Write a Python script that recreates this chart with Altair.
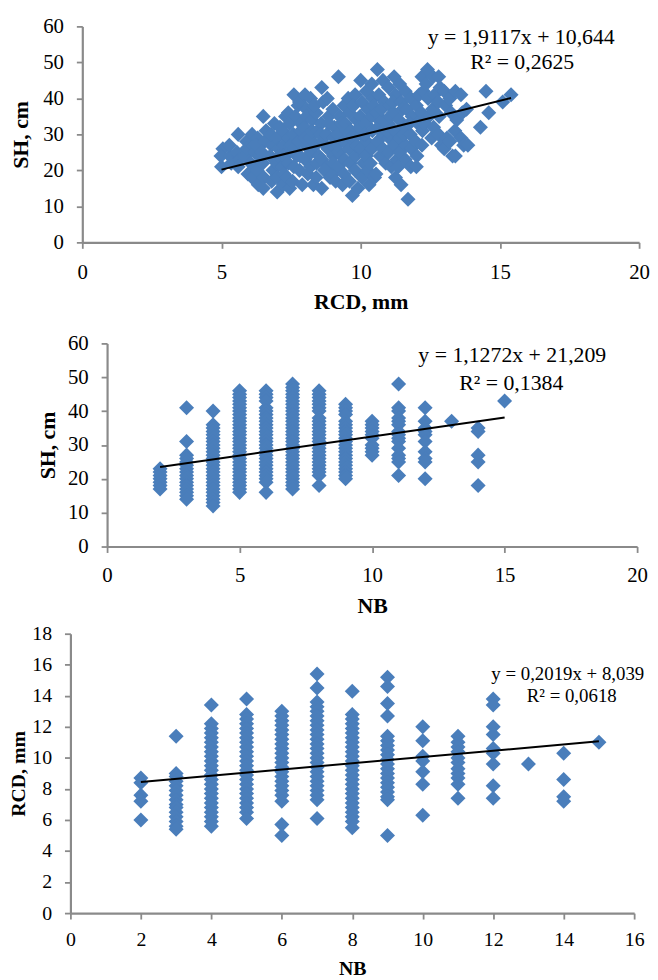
import altair as alt
import pandas as pd

FONT = "Liberation Serif"
BLUE = "#4a7ebb"
AXIS_GREY = "#8a8a8a"

# ---------- panel 1: RCD (mm) vs SH (cm) ----------
p1_rcd = [
    5.00, 5.05, 4.98,
    5.30, 5.35, 5.28,
    5.60, 5.55, 5.65, 5.60,
    5.90, 5.85, 5.95, 5.90,
    6.10, 6.15, 6.05, 6.10, 6.20,
    6.30, 6.35, 6.28, 6.32, 6.25,
    6.50, 6.55, 6.48, 6.52, 6.50, 6.45, 6.60,
    6.80, 6.75, 6.85, 6.80, 6.78, 6.90,
    7.00, 7.05, 6.98, 7.02, 7.00, 7.10, 7.05,
    7.20, 7.25, 7.18, 7.22, 7.30, 7.20, 7.25,
    7.40, 7.45, 7.38, 7.42, 7.40, 7.35, 7.45, 7.50,
    7.60, 7.65, 7.58, 7.62, 7.60, 7.55, 7.70, 7.75,
    7.80, 7.85, 7.78, 7.82, 7.80, 7.90, 7.85,
    8.00, 8.05, 7.98, 8.02, 8.00, 8.10, 8.05, 8.00,
    8.20, 8.25, 8.18, 8.22, 8.20, 8.30, 8.25,
    8.40, 8.45, 8.38, 8.42, 8.40, 8.35, 8.50,
    8.60, 8.65, 8.58, 8.62, 8.60, 8.60, 8.70, 8.55,
    8.80, 8.85, 8.78, 8.82, 8.80, 8.90, 8.85,
    9.00, 9.05, 8.98, 9.02, 9.00, 9.10, 9.05, 9.00,
    9.20, 9.25, 9.18, 9.22, 9.20, 9.30, 9.15,
    9.40, 9.45, 9.38, 9.42, 9.40, 9.35, 9.50,
    9.60, 9.65, 9.58, 9.62, 9.60, 9.70, 9.55, 9.65,
    9.80, 9.85, 9.78, 9.82, 9.80, 9.90, 9.75, 9.85,
    10.00, 10.05, 9.98, 10.02, 10.00, 10.10, 10.05, 9.95,
    10.20, 10.25, 10.18, 10.22, 10.20, 10.30, 10.25, 10.15,
    10.40, 10.45, 10.38, 10.42, 10.40, 10.35, 10.50, 10.45,
    10.60, 10.65, 10.58, 10.62, 10.60, 10.70, 10.55, 10.65,
    10.80, 10.85, 10.78, 10.82, 10.80, 10.90, 10.75,
    11.00, 11.05, 10.98, 11.02, 11.00, 11.10, 11.05, 10.95,
    11.20, 11.25, 11.18, 11.22, 11.20, 11.30, 11.25, 11.15,
    11.40, 11.45, 11.38, 11.42, 11.40, 11.35, 11.45, 11.50,
    11.60, 11.65, 11.58, 11.62, 11.60, 11.70, 11.55,
    11.80, 11.85, 11.78, 11.82, 11.80, 11.75,
    12.00, 12.05, 11.98, 12.02, 12.00, 12.10,
    12.20, 12.25, 12.18, 12.22, 12.20,
    12.40, 12.35, 12.42, 12.45, 12.30,
    12.60, 12.65, 12.58, 12.62, 12.55,
    12.80, 12.85, 12.78, 12.82, 12.80, 12.90,
    13.00, 13.05, 13.00, 13.10,
    13.20, 13.25, 13.30, 13.20,
    13.40, 13.45, 13.38, 13.40,
    13.60, 13.65, 13.60, 13.70,
    13.80, 13.85,
    14.30,
    14.50, 14.60,
    15.10,
    15.40,
]
p1_sh = [
    21, 26, 24,
    24, 22, 27,
    30, 25, 23, 21,
    28, 24, 19, 26,
    30, 27, 22, 18, 25,
    29, 24, 20, 16, 27,
    35, 28, 22, 18, 15, 25, 31,
    27, 24, 20, 17, 30, 33,
    29, 26, 22, 18, 14, 32, 24,
    31, 27, 21, 16, 35, 24, 19,
    36, 33, 29, 25, 22, 18, 15, 27,
    41, 35, 30, 26, 21, 17, 24, 38,
    39, 33, 28, 24, 20, 16, 31,
    41, 37, 32, 27, 23, 19, 35, 29,
    40, 34, 29, 25, 21, 16, 31,
    36, 31, 27, 22, 18, 38, 24,
    43, 39, 33, 28, 23, 15, 20, 30,
    40, 35, 30, 26, 21, 18, 33,
    37, 32, 27, 24, 19, 17, 29, 22,
    46, 35, 30, 25, 21, 33, 27,
    38, 33, 28, 23, 19, 16, 31,
    36, 31, 26, 22, 17, 13, 40, 29,
    41, 34, 29, 24, 20, 15, 38, 27,
    45, 39, 35, 30, 26, 22, 18, 32,
    42, 37, 33, 28, 24, 16, 20, 30,
    44, 40, 35, 31, 26, 22, 18, 38,
    48, 41, 36, 32, 28, 24, 19, 34,
    45, 39, 34, 30, 26, 22, 37,
    43, 38, 33, 29, 25, 21, 35, 31,
    46, 41, 36, 31, 27, 23, 18, 39,
    44, 39, 34, 29, 25, 21, 16, 37,
    42, 37, 32, 27, 23, 12, 30,
    40, 35, 30, 26, 21, 33,
    38, 33, 28, 24, 21, 41,
    46, 42, 36, 31, 27,
    48, 44, 40, 35, 33,
    46, 41, 37, 32, 29,
    46, 43, 39, 35, 30, 27,
    42, 38, 26, 29,
    40, 36, 24, 28,
    42, 34, 31, 24,
    41, 36, 29, 27,
    37, 27,
    32,
    42, 36,
    39,
    41,
]

# ---------- panel 2: NB vs SH (cm) ----------
p2_sh = {
    2: [23, 22, 21, 20, 19, 18, 17],
    3: [41, 31, 27, 26, 25, 24, 23, 22, 21, 20, 19, 18, 17, 16, 15, 14],
    4: [40, 36, 35, 34, 33, 32, 31, 30, 29, 28, 27, 26, 25, 24, 23, 22, 21, 20,
        19, 18, 17, 16, 15, 14, 13, 12],
    5: [46, 45, 44, 43, 42, 41, 40, 39, 38, 37, 36, 35, 34, 33, 32, 31, 30, 29,
        28, 27, 26, 25, 24, 23, 22, 21, 20, 19, 18, 17, 16],
    6: [46, 45, 44, 43, 41, 40, 39, 38, 37, 36, 35, 34, 33, 32, 31, 30, 29, 28,
        27, 26, 25, 24, 23, 22, 21, 20, 19, 16],
    7: [48, 47, 46, 45, 44, 43, 42, 41, 40, 39, 38, 37, 36, 35, 34, 33, 32, 31,
        30, 29, 28, 27, 26, 25, 24, 23, 22, 21, 20, 19, 18, 17],
    8: [46, 45, 44, 43, 42, 41, 40, 38, 37, 36, 35, 34, 33, 32, 31, 30, 29, 28,
        27, 26, 25, 24, 23, 22, 21, 18],
    9: [42, 41, 40, 39, 37, 36, 35, 34, 33, 32, 31, 30, 29, 28, 27, 26, 25, 24,
        23, 22, 21, 20],
    10: [37, 36, 35, 34, 33, 32, 30, 29, 28, 27],
    11: [48, 41, 40, 38, 37, 36, 34, 33, 32, 31, 29, 27, 26, 25, 21],
    12: [41, 37, 35, 34, 33, 31, 28, 26, 25, 20],
    13: [37],
    14: [35, 34, 27, 25, 18],
    15: [43],
}

# ---------- panel 3: NB vs RCD (mm) ----------
p3_rcd = {
    2: [8.7, 8.4, 7.6, 7.2, 6.0],
    3: [11.4, 9.0, 8.8, 8.5, 8.2, 7.9, 7.6, 7.3, 7.0, 6.8, 6.5, 6.2, 5.9, 5.6, 5.4],
    4: [13.4, 12.2, 11.9, 11.6, 11.3, 11.0, 10.7, 10.4, 10.1, 9.8, 9.5, 9.2, 8.9,
        8.6, 8.3, 8.0, 7.7, 7.4, 7.1, 6.8, 6.5, 6.2, 5.9, 5.6],
    5: [13.8, 12.8, 12.5, 12.2, 11.9, 11.6, 11.3, 11.0, 10.7, 10.4, 10.1, 9.8, 9.5,
        9.2, 8.9, 8.6, 8.3, 8.0, 7.7, 7.4, 7.1, 6.8, 6.5, 6.1],
    6: [13.0, 12.7, 12.4, 12.1, 11.8, 11.5, 11.2, 10.9, 10.6, 10.3, 10.0, 9.7, 9.4,
        9.1, 8.8, 8.5, 8.2, 7.9, 7.6, 7.2, 5.7, 5.0],
    7: [15.4, 14.5, 13.6, 13.3, 13.0, 12.7, 12.4, 12.1, 11.8, 11.5, 11.2, 10.9,
        10.6, 10.3, 10.0, 9.7, 9.4, 9.1, 8.8, 8.5, 8.2, 7.9, 7.6, 7.3, 6.1],
    8: [14.3, 12.8, 12.5, 12.2, 11.9, 11.6, 11.3, 11.0, 10.7, 10.4, 10.1, 9.8, 9.5,
        9.2, 8.9, 8.6, 8.3, 8.0, 7.7, 7.4, 7.1, 6.8, 6.5, 6.2, 5.9, 5.5],
    9: [15.2, 14.6, 13.5, 12.7, 11.4, 11.1, 10.8, 10.5, 10.2, 9.9, 9.6, 9.3, 9.0,
        8.7, 8.4, 8.1, 7.8, 7.5, 7.3, 5.0],
    10: [12.0, 11.1, 10.1, 9.8, 9.1, 8.3, 6.3],
    11: [11.4, 11.0, 10.7, 10.4, 10.0, 9.7, 9.3, 9.0, 8.7, 8.3, 7.4],
    12: [13.8, 13.4, 12.0, 11.5, 10.6, 10.3, 9.6, 8.2, 7.4],
    13: [9.6],
    14: [10.3, 8.6, 7.5, 7.2],
    15: [11.0],
}

# ---------- trend lines and their labels ----------
fit_slope = [1.9117, 1.1272, 0.2019]
fit_intercept = [10.644, 21.209, 8.039]
fit_xrange = [(5.0, 15.4), (2, 15), (2, 15)]
eq_text = ["y = 1,9117x + 10,644", "y = 1,1272x + 21,209", "y = 0,2019x + 8,039"]
r2_text = ["R² = 0,2625", "R² = 0,1384", "R² = 0,0618"]


def flatten(d):
    xs, ys = [], []
    for k, vals in d.items():
        for v in vals:
            xs.append(k)
            ys.append(v)
    return xs, ys


def panel(px, py, k, xtitle, ytitle, xdom, xvals, ydom, yvals, w, h,
          lab_fs, ttl_fs, eq_fs, lab_pad_x, ttl_pad_x, ttl_x, eq_pos, r2_pos):
    pts = pd.DataFrame({"x": px, "y": py})
    x0, x1 = fit_xrange[k]
    line = pd.DataFrame({
        "x": [x0, x1],
        "y": [fit_slope[k] * x0 + fit_intercept[k], fit_slope[k] * x1 + fit_intercept[k]],
    })
    common = dict(
        grid=False, domainColor=AXIS_GREY, domainWidth=2.2, tickColor=AXIS_GREY,
        tickWidth=1.8, tickSize=6, labelFont=FONT, labelFontSize=lab_fs,
        labelColor="black", labelFlush=False, labelOverlap=False,
        titleFont=FONT, titleFontSize=ttl_fs, titleFontWeight="bold", titleColor="black",
    )
    xax = alt.Axis(values=xvals, title=xtitle, labelPadding=lab_pad_x,
                   titlePadding=ttl_pad_x, **common)
    yax = alt.Axis(values=yvals, title=ytitle, labelPadding=13, titleAngle=270,
                   titleX=ttl_x, titleBaseline="middle", **common)
    X = alt.X("x:Q", scale=alt.Scale(domain=xdom, nice=False, zero=False), axis=xax)
    Y = alt.Y("y:Q", scale=alt.Scale(domain=ydom, nice=False, zero=False), axis=yax)
    pts_layer = alt.Chart(pts).mark_point(
        shape="diamond", filled=True, size=230, color=BLUE, opacity=1, strokeWidth=0
    ).encode(x=X, y=Y)
    line_layer = alt.Chart(line).mark_line(color="black", strokeWidth=2).encode(x=X, y=Y)
    t1 = alt.Chart(pd.DataFrame({"t": [eq_text[k]]})).mark_text(
        font=FONT, fontSize=eq_fs, color="black", align="center", baseline="middle"
    ).encode(text="t:N", x=alt.value(eq_pos[0]), y=alt.value(eq_pos[1]))
    t2 = alt.Chart(pd.DataFrame({"t": [r2_text[k]]})).mark_text(
        font=FONT, fontSize=eq_fs, color="black", align="center", baseline="middle"
    ).encode(text="t:N", x=alt.value(r2_pos[0]), y=alt.value(r2_pos[1]))
    return alt.layer(pts_layer, line_layer, t1, t2).properties(width=w, height=h)


def spacer(w):
    return alt.Chart(pd.DataFrame({"s": [0]})).mark_point(opacity=0, size=0).encode(
        x=alt.value(0), y=alt.value(0)
    ).properties(width=w, height=10)


p2_nb, p2_vals = flatten(p2_sh)
p3_nb, p3_vals = flatten(p3_rcd)

c1 = panel(p1_rcd, p1_sh, 0, "RCD, mm", "SH, cm", [0, 20], [0, 5, 10, 15, 20],
           [0, 60], [0, 10, 20, 30, 40, 50, 60], 562, 218,
           21, 22, 22, 13, 10, -62, (443, 11), (444, 36.5))
c2 = panel(p2_nb, p2_vals, 1, "NB", "SH, cm", [0, 20], [0, 5, 10, 15, 20],
           [0, 60], [0, 10, 20, 30, 40, 50, 60], 535, 205,
           21, 22, 22, 12.5, 10, -60, (409, 12), (408, 40))
c3 = panel(p3_nb, p3_vals, 2, "NB", "RCD, mm", [0, 16], [0, 2, 4, 6, 8, 10, 12, 14, 16],
           [0, 18], [0, 2, 4, 6, 8, 10, 12, 14, 16, 18], 569, 282,
           20, 20, 19, 10.5, 9, -52, (502, 41), (506, 63))

chart = alt.vconcat(
    alt.vconcat(
        alt.hconcat(spacer(2), c1, spacing=0),
        alt.hconcat(spacer(29), c2, spacing=0),
        spacing=20,
    ),
    alt.hconcat(spacer(1), c3, spacing=0),
    spacing=7,
).properties(
    padding={"left": 0, "top": 3, "right": 0, "bottom": 0}
).configure_view(stroke=None)

chart.save("out.html", embed_options={"renderer": "svg", "actions": False})
